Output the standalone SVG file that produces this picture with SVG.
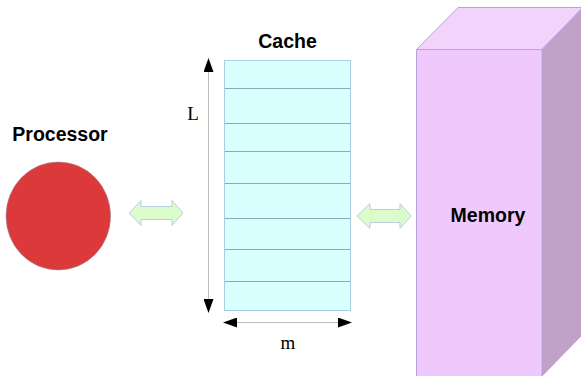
<svg xmlns="http://www.w3.org/2000/svg" width="581" height="376" viewBox="0 0 581 376">
<style>
.lbl{font-family:"Liberation Sans",Arial,sans-serif;font-weight:bold;font-size:19.5px;fill:#000}
.dim{font-family:"Liberation Serif","Times New Roman",serif;font-size:19px;fill:#000}
.row{stroke:#8eaab2;stroke-width:1}
.dbl{fill:#dcfccc;stroke:#b7cde0;stroke-width:1}
.dline{stroke:#bdbdbd;stroke-width:1;fill:none}
</style>
<defs>
<marker id="ah" viewBox="0 0 14 10" refX="13" refY="5" markerWidth="14" markerHeight="10" markerUnits="userSpaceOnUse" orient="auto-start-reverse">
<path d="M0,0 L14,5 L0,10 Z" fill="#000"/>
</marker>
</defs>
<rect width="581" height="376" fill="#fff"/>
<g id="processor">
<ellipse cx="58.3" cy="216" rx="52.3" ry="54" fill="#dc3a3a" stroke="#9a8aa8" stroke-width="0.6"/>
<text class="lbl" x="60" y="141.3" text-anchor="middle">Processor</text>
</g>
<g id="cache">
<rect x="224.5" y="60.5" width="126" height="250" fill="#d9ffff" stroke="#a8cde6" stroke-width="1"/>
<line class="row" x1="225" y1="88.5" x2="350" y2="88.5"/>
<line class="row" x1="225" y1="123.5" x2="350" y2="123.5"/>
<line class="row" x1="225" y1="151.5" x2="350" y2="151.5"/>
<line class="row" x1="225" y1="183.5" x2="350" y2="183.5"/>
<line class="row" x1="225" y1="218.5" x2="350" y2="218.5"/>
<line class="row" x1="225" y1="249.5" x2="350" y2="249.5"/>
<line class="row" x1="225" y1="281.5" x2="350" y2="281.5"/>
<text class="lbl" x="287.5" y="48" text-anchor="middle">Cache</text>
</g>
<g id="memory">
<polygon points="416.5,49.5 458,7.5 583,7.5 542,49.5" fill="#f2d3fc" stroke="#b9a2dc" stroke-width="1"/>
<polygon points="542,49.5 583,7.5 583,334 542,376" fill="#c0a1c8" stroke="#b9a2dc" stroke-width="1"/>
<rect x="416.5" y="49.5" width="125.5" height="330" fill="#efc9fb" stroke="#b9a2dc" stroke-width="1"/>
<text class="lbl" x="488" y="221.5" text-anchor="middle">Memory</text>
</g>
<g id="connectors">
<polygon class="dbl" points="129,213 141,200.5 141,206.5 172,206.5 172,200.5 183,213 172,225.5 172,219.5 141,219.5 141,225.5"/>
<polygon class="dbl" points="357,216 370,203.5 370,209.5 400,209.5 400,203.5 411,216 400,228.5 400,222.5 370,222.5 370,228.5"/>
<line class="dline" x1="208.5" y1="59" x2="208.5" y2="312" marker-start="url(#ah)" marker-end="url(#ah)"/>
<line class="dline" x1="224" y1="322.5" x2="351" y2="322.5" marker-start="url(#ah)" marker-end="url(#ah)"/>
<text class="dim" x="193" y="120" text-anchor="middle">L</text>
<text class="dim" x="288" y="349" text-anchor="middle">m</text>
</g>
</svg>
